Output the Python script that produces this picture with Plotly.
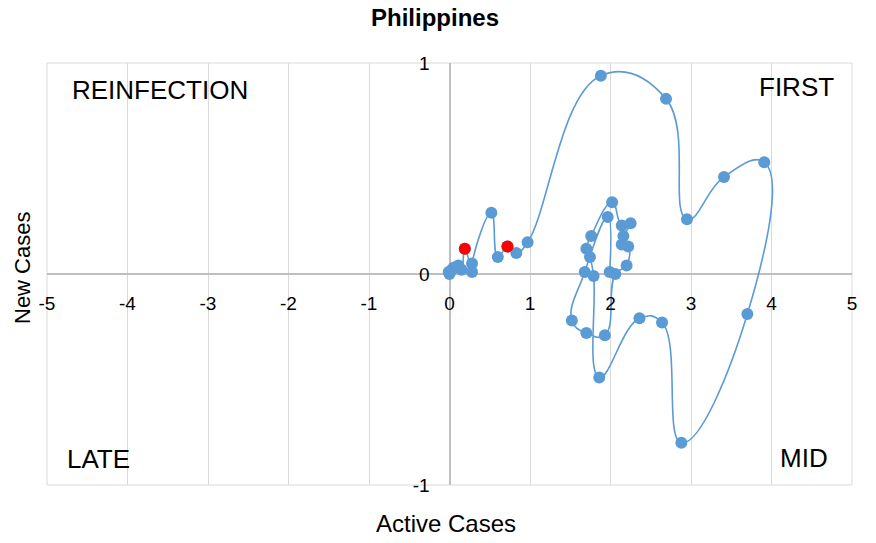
import plotly.graph_objects as go

# Trajectory (Active Cases vs New Cases), in drawing order
active_cases = [0.00, -0.01, 0.03, 0.05, 0.11, 0.15, 0.19, 0.28, 0.28, 0.52,
                0.60, 0.72, 0.83, 0.97, 1.88, 2.69, 2.95, 3.41, 3.91, 3.70,
                2.88, 2.64, 2.36, 1.86, 1.79, 1.745, 1.70, 1.76, 2.02, 2.14,
                2.25, 2.16, 2.14, 2.22, 2.20, 2.06, 1.93, 1.70, 1.52, 1.68,
                1.965, 1.99]
new_cases = [0.00, 0.01, 0.02, 0.03, 0.04, 0.02, 0.12, 0.01, 0.05, 0.29,
             0.08, 0.13, 0.10, 0.15, 0.94, 0.83, 0.26, 0.46, 0.53, -0.19,
             -0.80, -0.23, -0.21, -0.49, -0.01, 0.08, 0.12, 0.18, 0.34, 0.23,
             0.24, 0.18, 0.14, 0.13, 0.04, 0.00, -0.29, -0.28, -0.22, 0.01,
             0.27, 0.01]

# Highlighted points
red_active = [0.19, 0.72]
red_new = [0.12, 0.13]

x_ticks = [-5, -4, -3, -2, -1, 0, 1, 2, 3, 4, 5]
x_tick_labels = ["-5", "-4", "-3", "-2", "-1", "0", "1", "2", "3", "4", "5"]
y_ticks = [-1, 0, 1]
y_tick_labels = ["-1", "0", "1"]

BLUE = "#5B9BD5"
FONT = "Liberation Sans, Arial, sans-serif"

fig = go.Figure()
fig.add_trace(go.Scatter(
    x=active_cases, y=new_cases, mode="lines+markers",
    line=dict(color=BLUE, width=1.6, shape="spline", smoothing=1.3),
    marker=dict(color=BLUE, size=12), showlegend=False, hoverinfo="x+y"))
fig.add_trace(go.Scatter(
    x=red_active, y=red_new, mode="markers",
    marker=dict(color="#FF0000", size=12), showlegend=False))

fig.update_layout(
    width=876, height=543,
    margin=dict(l=47, r=24, t=63, b=58, autoexpand=False),
    paper_bgcolor="white", plot_bgcolor="white",
    font=dict(family=FONT, color="#000000"),
    xaxis=dict(range=[-5, 5], tickvals=x_ticks, ticktext=x_tick_labels,
               showgrid=True, gridcolor="#d9d9d9",
               gridwidth=1, zeroline=True, zerolinecolor="#bfbfbf", zerolinewidth=1.5,
               anchor="free", position=0.5, showline=False,
               ticks="outside", ticklen=12, tickcolor="rgba(0,0,0,0)",
               tickfont=dict(size=19, family=FONT, color="#000")),
    yaxis=dict(range=[-1, 1], tickvals=y_ticks, ticktext=y_tick_labels,
               showgrid=True, gridcolor="#d9d9d9",
               gridwidth=1, zeroline=True, zerolinecolor="#bfbfbf", zerolinewidth=1.5,
               anchor="free", position=0.5, showline=False,
               ticks="outside", ticklen=16, tickcolor="rgba(0,0,0,0)",
               tickfont=dict(size=19, family=FONT, color="#000")),
    shapes=[dict(type="rect", xref="paper", yref="paper", x0=0, x1=1, y0=0, y1=1,
                 line=dict(color="#d9d9d9", width=1), layer="below")],
)

ann = [
    dict(text="<b>Philippines</b>", x=435, y=18, size=24),
    dict(text="Active Cases", x=446, y=523, size=24),
]
for a in ann:
    fig.add_annotation(text=a["text"], xref="paper", yref="paper",
                       x=(a["x"] - 47) / 805, y=(485 - a["y"]) / 422,
                       showarrow=False, xanchor="center", yanchor="middle",
                       font=dict(size=a["size"], family=FONT, color="#000"))

fig.add_annotation(text="New Cases", xref="paper", yref="paper",
                   x=(22 - 47) / 805, y=(485 - 268) / 422, textangle=-90,
                   showarrow=False, xanchor="center", yanchor="middle",
                   font=dict(size=22, family=FONT, color="#000"))

quad = [
    ("REINFECTION", 70, 90, "left"),
    ("FIRST", 836, 87, "right"),
    ("LATE", 65, 459, "left"),
    ("MID", 830, 458, "right"),
]
for t, px, py, anc in quad:
    fig.add_annotation(text=t, xref="paper", yref="paper",
                       x=(px - 47) / 805, y=(485 - py) / 422,
                       showarrow=False, xanchor=anc, yanchor="middle",
                       font=dict(size=26, family=FONT, color="#000"))

fig.write_html("out.html",
               config={"displayModeBar": False},
               post_script="document.body.style.margin='0px';"
                           "document.body.style.overflow='hidden';")
